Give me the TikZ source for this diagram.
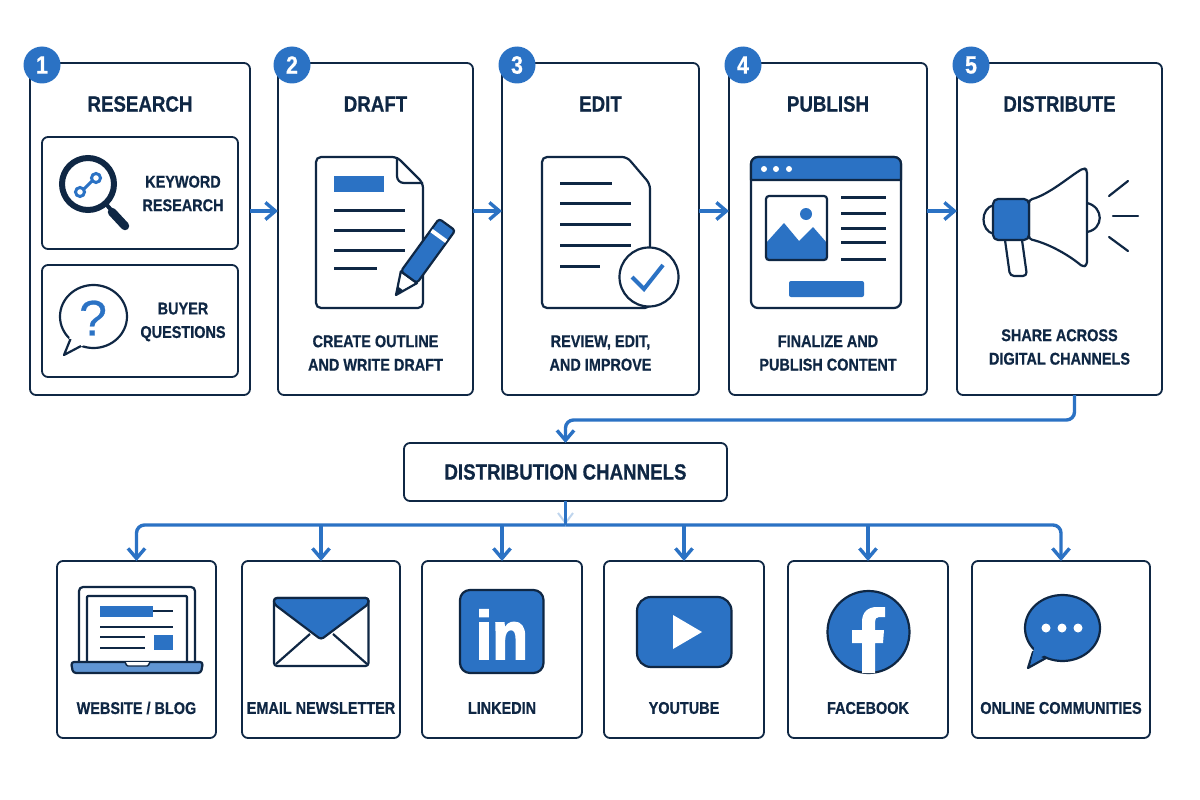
\documentclass[tikz,border=0pt]{standalone}
\usepackage{fontspec}
\setmainfont{Liberation Sans}[FakeStretch=0.85, BoldFeatures={FakeBold=0.7}]
\newfontfamily\plainface{Liberation Sans}[FakeBold=0.5]
\newfontfamily\logoface{Liberation Sans Bold}[FakeStretch=0.86, FakeBold=2.5]
\usetikzlibrary{positioning}
\usetikzlibrary{arrows.meta}
\definecolor{inkD}{HTML}{0F2744}
\definecolor{blueD}{HTML}{2B72C4}
\newcommand{\Lfont}[1]{\bfseries\fontsize{#1}{#1}\selectfont}
\tikzstyle{stepbox} = [draw=inkD, fill=white, line width=1.8pt, rounded corners=6pt, minimum height=332pt, outer sep=0pt, inner sep=0pt]
\tikzstyle{subbox} = [stepbox, minimum width=196pt, minimum height=112pt]
\tikzstyle{chanbox} = [stepbox, minimum height=177pt]
\tikzstyle{hubbox} = [stepbox, minimum width=323pt, minimum height=58pt]
\tikzstyle{badge} = [circle, fill=blueD, text=white, minimum size=37pt, inner sep=0pt, font=\Lfont{25}]
\tikzstyle{head} = [text=inkD, font=\Lfont{22}]
\tikzstyle{lbl} = [text=inkD, align=center, inner sep=0pt, font=\bfseries\fontsize{17}{23.5}\selectfont]
\tikzstyle{flow} = [draw=blueD, line width=3.4pt, -{Straight Barb[length=10pt,width=17pt]}]
\tikzstyle{ink} = [draw=inkD, line width=2.2pt, line join=round]
\tikzstyle{rule} = [draw=inkD, line width=3pt]

\begin{document}
\begin{tikzpicture}[x=1pt,y=-1pt]
\useasboundingbox (0,0) rectangle (1200,800);

% Define nodes
\node[stepbox, minimum width=220pt]              at (140,229) (research) {};
\node[stepbox, minimum width=195pt, right=28pt of research]   (draft) {};
\node[stepbox, minimum width=197pt, right=29pt of draft]      (edit) {};
\node[stepbox, minimum width=198pt, right=30pt of edit]       (publish) {};
\node[stepbox, minimum width=205pt, right=30pt of publish]    (distribute) {};

\node[subbox] at (140,193)                       (keyword) {};
\node[subbox, below=16pt of keyword]             (buyer) {};

\node[hubbox] at (565.5,472) (hub) {\textcolor{inkD}{\Lfont{22}DISTRIBUTION CHANNELS}};

\node[chanbox, minimum width=159pt] at (136.5,649.5)          (website) {};
\node[chanbox, minimum width=158pt, right=26pt of website]    (email) {};
\node[chanbox, minimum width=160pt, right=22pt of email]      (linkedin) {};
\node[chanbox, minimum width=160pt, right=22pt of linkedin]   (youtube) {};
\node[chanbox, minimum width=160pt, right=24pt of youtube]    (facebook) {};
\node[chanbox, minimum width=178pt, right=24pt of facebook]   (online) {};

\coordinate (bus) at (hub.south |- 0,525);

% Badges
\node[badge] at (42,65)  (one)   {1};
\node[badge] at (292,65) (two)   {2};
\node[badge] at (517,65) (three) {3};
\node[badge] at (743,65) (four)  {4};
\node[badge] at (971,65) (five)  {5};

% Titles
\node[head] at ([yshift=-41pt]research.north)   (researchT)   {RESEARCH};
\node[head] at ([yshift=-41pt]draft.north)      (draftT)      {DRAFT};
\node[head] at ([yshift=-41pt]edit.north)       (editT)       {EDIT};
\node[head] at ([yshift=-41pt]publish.north)    (publishT)    {PUBLISH};
\node[head] at ([yshift=-41pt]distribute.north) (distributeT) {DISTRIBUTE};

% Labels
\node[lbl] at (183,193.5) (keywordL) {KEYWORD\\RESEARCH};
\node[lbl] at (183,322)   (buyerL)   {BUYER\\QUESTIONS};
\node[lbl] at (draft.center |- 0,353)      (draftL)      {CREATE OUTLINE\\AND WRITE DRAFT};
\node[lbl] at (edit.center |- 0,353)       (editL)       {REVIEW, EDIT,\\AND IMPROVE};
\node[lbl] at (publish.center |- 0,353)    (publishL)    {FINALIZE AND\\PUBLISH CONTENT};
\node[lbl] at (distribute.center |- 0,347) (distributeL) {SHARE ACROSS\\DIGITAL CHANNELS};

\node[lbl] at (website.center  |- 0,708) (websiteL)  {WEBSITE / BLOG};
\node[lbl] at (email.center    |- 0,708) (emailL)    {EMAIL NEWSLETTER};
\node[lbl] at (linkedin.center |- 0,708) (linkedinL) {LINKEDIN};
\node[lbl] at (youtube.center  |- 0,708) (youtubeL)  {YOUTUBE};
\node[lbl] at (facebook.center |- 0,708) (facebookL) {FACEBOOK};
\node[lbl] at (online.center   |- 0,708) (onlineL)   {ONLINE COMMUNITIES};

% Edges
\draw[flow] ([yshift=18pt]research.east) -- ([yshift=18pt]draft.west);
\draw[flow] ([yshift=18pt]draft.east) -- ([yshift=18pt]edit.west);
\draw[flow] ([yshift=18pt]edit.east) -- ([yshift=18pt]publish.west);
\draw[flow] ([yshift=18pt]publish.east) -- ([yshift=18pt]distribute.west);
\draw[flow, rounded corners=8pt] ([xshift=15pt]distribute.south) |- ([yshift=23pt]hub.north) -- (hub.north);

\draw[draw=blueD!30, line width=2pt] (558,513) -- (565.5,523) -- (573,513);
\draw[draw=blueD, line width=3.4pt] (hub.south) -- (bus);
\draw[flow, rounded corners=8pt] (bus) -| (website.north);
\draw[flow, rounded corners=8pt] (bus) -| (online.north);
\draw[flow] (email.north |- bus) -- (email.north);
\draw[flow] (linkedin.north |- bus) -- (linkedin.north);
\draw[flow] (youtube.north |- bus) -- (youtube.north);
\draw[flow] (facebook.north |- bus) -- (facebook.north);

% Magnifier
\draw[draw=inkD, line width=4pt] (106,204) -- (112,211);
\draw[draw=inkD, line width=8.5pt, line cap=round] (112,212) -- (125,226);
\draw[draw=inkD, line width=6pt, fill=white] (88,184) circle (26);
\draw[draw=blueD, line width=3pt] (84,189) -- (92,181);
\draw[draw=blueD, line width=3pt] (80,192) circle (4.5);
\draw[draw=blueD, line width=3pt] (96,178) circle (4.5);

% Question bubble
\draw[ink, fill=white] (93.5,316.5) ellipse (33.5 and 31.5);
\fill[white] (70,336) -- (64,355) -- (84,345) -- (80,335) -- cycle;
\draw[ink] (70.5,339) -- (64,355) -- (81,346);
\node[text=blueD, inner sep=0pt, font=\plainface\fontsize{50}{50}\selectfont] at (93,318) (ask) {?};

% Draft sheet
\draw[ink, fill=white, rounded corners=5pt] (316,157) -- (397,157) -- (423,183) -- (423,308) -- (316,308) -- cycle;
\draw[ink] (397,157) -- (397,176) .. controls (397,180) and (400,183) .. (404,183) -- (423,183);
\fill[blueD] (334,176) rectangle (384,192);
\draw[rule] (334,210) -- (405,210);
\draw[rule] (334,230) -- (405,230);
\draw[rule] (334,250) -- (405,250);
\draw[rule] (334,268) -- (377,268);
\begin{scope}[shift={(396,295)}, rotate=54]
  \draw[ink, fill=white] (0,0) -- (22,-10) -- (22,10) -- cycle;
  \fill[inkD] (0,0) -- (8,-3.6) -- (8,3.6) -- cycle;
  \draw[ink, fill=blueD, rounded corners=3pt] (22,-10) -- (87,-10) -- (87,10) -- (22,10) -- cycle;
  \fill[white] (71,-9) rectangle (75,9);
\end{scope}

% Edit sheet
\draw[ink, fill=white, rounded corners=5pt] (542,157) -- (627,157) -- (650,184) -- (650,308) -- (542,308) -- cycle;
\draw[rule] (560,183) -- (612,183);
\draw[rule] (560,203) -- (631,203);
\draw[rule] (560,224) -- (631,224);
\draw[rule] (560,245) -- (631,245);
\draw[rule] (560,266) -- (600,266);
\draw[ink, fill=white] (649,277) circle (29.5);
\draw[draw=blueD, line width=4pt] (632,277) -- (644,289) -- (663,265);

% Browser window
\draw[ink, fill=white, rounded corners=7pt] (751,157) rectangle (901,308);
\draw[ink, fill=blueD] (751,180) -- (751,164) .. controls (751,160) and (754,157) .. (758,157) -- (894,157) .. controls (898,157) and (901,160) .. (901,164) -- (901,180) -- cycle;
\fill[white] (764,169) circle (3);
\fill[white] (776,169) circle (3);
\fill[white] (789,169) circle (3);
\fill[blueD] (766,243) -- (784,223) -- (799,241) -- (813,227) -- (827,243) -- (827,260) -- (766,260) -- cycle;
\draw[ink, rounded corners=3pt] (766,196) rectangle (827,260);
\fill[blueD] (806,214) circle (6);
\draw[rule] (841,197) -- (886,197);
\draw[rule] (841,213) -- (886,213);
\draw[rule] (841,228) -- (886,228);
\draw[rule] (841,242) -- (886,242);
\draw[rule] (841,259) -- (886,259);
\fill[blueD, rounded corners=2pt] (789,281) rectangle (864,297);

% Megaphone
\draw[ink, fill=white, rounded corners=4pt] (1005,240) -- (1010,276) -- (1027,276) -- (1022,240);
\draw[ink] (994,205) .. controls (980,208) and (980,231) .. (994,234);
\draw[ink] (1087,203) .. controls (1104,207) and (1104,229) .. (1087,232);
\draw[ink, fill=white, rounded corners=3pt] (1029,200) .. controls (1050,194) and (1070,176) .. (1084,168) -- (1087,170) -- (1087,265) -- (1083,267) .. controls (1070,256) and (1050,244) .. (1029,239) -- cycle;
\draw[ink, fill=blueD, rounded corners=5pt] (1029,199) -- (993,199) -- (993,240) -- (1029,240) -- cycle;
\draw[ink, line cap=round] (1109,196) -- (1128,181);
\draw[ink, line cap=round] (1113,216) -- (1138,216);
\draw[ink, line cap=round] (1109,237) -- (1128,251);

% Laptop
\draw[ink, fill=white, rounded corners=4pt] (79,662) -- (79,587) -- (195,587) -- (195,662);
\draw[ink, rounded corners=1pt] (87,662) -- (87,596) -- (187,596) -- (187,662);
\fill[blueD] (100,606) rectangle (153,617);
\draw[draw=inkD, line width=2pt] (153,610.5) -- (173,610.5);
\draw[rule, line width=2.4pt] (100,627) -- (173,627);
\draw[rule, line width=2.4pt] (100,637) -- (145,637);
\draw[rule, line width=2.4pt] (100,648) -- (145,648);
\fill[blueD] (153.5,635) rectangle (173,650);
\draw[ink, fill=blueD!75!white, rounded corners=3pt] (71,662) -- (203,662) -- (201,673) -- (73,673) -- cycle;
\draw[draw=inkD, line width=1.4pt, fill=white, rounded corners=1pt] (125,662) -- (127,666) -- (148,666) -- (150,662);

% Envelope
\draw[ink, fill=white, rounded corners=3pt] (274,598) rectangle (368.5,666);
\draw[ink, fill=blueD, rounded corners=3pt] (274,598) -- (368.5,598) -- (368.5,604) -- (321,639.5) -- (274,604) -- cycle;
\draw[ink] (276,664) -- (310,634);
\draw[ink] (367,664) -- (333,634);

% LinkedIn
\draw[ink, fill=blueD, rounded corners=10pt] (460,590) rectangle (543.5,673);
\node[text=white, anchor=base, inner sep=0pt, font=\logoface\fontsize{68}{68}\selectfont] at (502,659) (inmark) {in};

% YouTube
\draw[ink, fill=blueD, rounded corners=14pt] (637,597) rectangle (731.5,667);
\fill[white] (673,615) -- (702,632) -- (673,649) -- cycle;

% Facebook
\draw[ink, fill=blueD] (868.5,632) circle (41);
\fill[white] (862,673) -- (862,643) -- (852,643) -- (852,630) -- (862,630) -- (862,622) .. controls (862,612) and (868,607) .. (877,607) -- (885,607) -- (885,617) -- (879,617) .. controls (876,617) and (875,619) .. (875,622) -- (875,630) -- (884,630) -- (883,643) -- (875,643) -- (875,673) -- cycle;

% Communities bubble
\draw[ink, fill=blueD] (1033,652) -- (1028,668) -- (1046,658) -- cycle;
\draw[ink, fill=blueD] (1062.5,628) ellipse (37.5 and 33);
\fill[blueD] (1035,645) -- (1031,662) -- (1047,654) -- (1048,645) -- cycle;
\fill[white] (1046,628) circle (4.5);
\fill[white] (1062,628) circle (4.5);
\fill[white] (1078,628) circle (4.5);
\end{tikzpicture}
\end{document}
